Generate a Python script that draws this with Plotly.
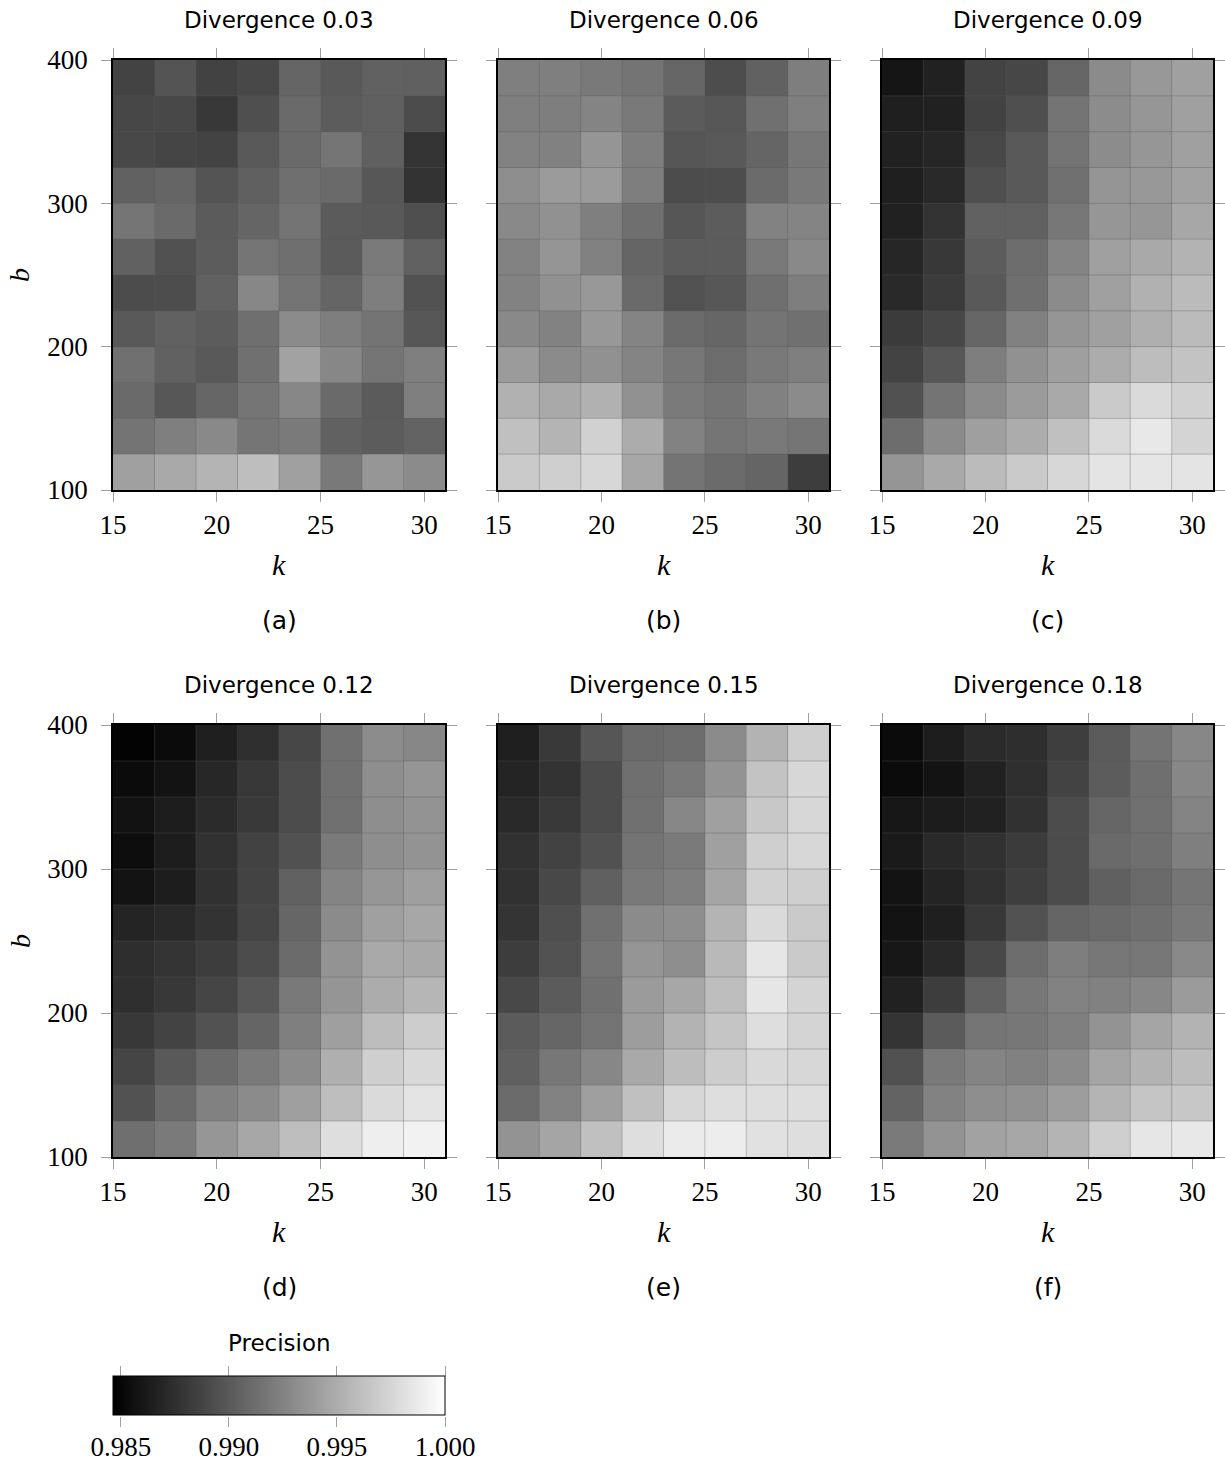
import plotly.graph_objects as go

# k values (cell centres) and b values (cell centres)
K = [16, 18, 20, 22, 24, 26, 28, 30]
B_TOP_DOWN = [387.5, 362.5, 337.5, 312.5, 287.5, 262.5, 237.5, 212.5, 187.5, 162.5, 137.5, 112.5]
X_TICKS = [15, 20, 25, 30]
Y_TICKS = [100, 200, 300, 400]
CB_TICKS = [0.985, 0.990, 0.995, 1.000]
CB_TICKTEXT = ["0.985", "0.990", "0.995", "1.000"]
TITLES = ["Divergence 0.03", "Divergence 0.06", "Divergence 0.09",
          "Divergence 0.12", "Divergence 0.15", "Divergence 0.18"]
CAPTIONS = ["(a)", "(b)", "(c)", "(d)", "(e)", "(f)"]

# precision values, rows listed from b=400 (top) down to b=100 (bottom)
prec_003 = [
    [0.9887, 0.9897, 0.9886, 0.9890, 0.9907, 0.9900, 0.9905, 0.9904],
    [0.9889, 0.9890, 0.9880, 0.9894, 0.9910, 0.9902, 0.9904, 0.9892],
    [0.9890, 0.9888, 0.9887, 0.9900, 0.9910, 0.9917, 0.9904, 0.9878],
    [0.9905, 0.9907, 0.9897, 0.9904, 0.9913, 0.9910, 0.9899, 0.9877],
    [0.9917, 0.9910, 0.9901, 0.9907, 0.9916, 0.9901, 0.9900, 0.9894],
    [0.9905, 0.9895, 0.9902, 0.9917, 0.9913, 0.9901, 0.9920, 0.9905],
    [0.9892, 0.9893, 0.9905, 0.9928, 0.9916, 0.9907, 0.9922, 0.9896],
    [0.9900, 0.9905, 0.9902, 0.9913, 0.9930, 0.9922, 0.9916, 0.9899],
    [0.9914, 0.9905, 0.9900, 0.9914, 0.9944, 0.9928, 0.9917, 0.9923],
    [0.9910, 0.9899, 0.9908, 0.9917, 0.9928, 0.9910, 0.9901, 0.9923],
    [0.9916, 0.9923, 0.9929, 0.9917, 0.9920, 0.9905, 0.9902, 0.9906],
    [0.9943, 0.9948, 0.9955, 0.9961, 0.9943, 0.9919, 0.9937, 0.9930],
]
prec_006 = [
    [0.9923, 0.9923, 0.9919, 0.9916, 0.9908, 0.9893, 0.9905, 0.9922],
    [0.9923, 0.9922, 0.9926, 0.9919, 0.9901, 0.9899, 0.9914, 0.9923],
    [0.9925, 0.9924, 0.9936, 0.9922, 0.9898, 0.9900, 0.9907, 0.9918],
    [0.9932, 0.9940, 0.9940, 0.9922, 0.9892, 0.9893, 0.9911, 0.9919],
    [0.9929, 0.9934, 0.9923, 0.9913, 0.9898, 0.9902, 0.9925, 0.9926],
    [0.9925, 0.9936, 0.9924, 0.9907, 0.9902, 0.9902, 0.9919, 0.9929],
    [0.9925, 0.9934, 0.9938, 0.9910, 0.9896, 0.9899, 0.9913, 0.9922],
    [0.9929, 0.9925, 0.9938, 0.9926, 0.9911, 0.9908, 0.9916, 0.9914],
    [0.9940, 0.9930, 0.9934, 0.9926, 0.9918, 0.9912, 0.9919, 0.9923],
    [0.9953, 0.9948, 0.9953, 0.9934, 0.9920, 0.9916, 0.9924, 0.9930],
    [0.9962, 0.9955, 0.9972, 0.9950, 0.9925, 0.9917, 0.9919, 0.9917],
    [0.9968, 0.9971, 0.9976, 0.9947, 0.9916, 0.9911, 0.9907, 0.9883],
]
prec_009 = [
    [0.9859, 0.9866, 0.9887, 0.9889, 0.9908, 0.9930, 0.9938, 0.9943],
    [0.9865, 0.9866, 0.9886, 0.9894, 0.9916, 0.9931, 0.9937, 0.9943],
    [0.9866, 0.9869, 0.9890, 0.9900, 0.9916, 0.9931, 0.9937, 0.9943],
    [0.9865, 0.9871, 0.9894, 0.9900, 0.9914, 0.9936, 0.9938, 0.9944],
    [0.9866, 0.9877, 0.9905, 0.9905, 0.9918, 0.9937, 0.9937, 0.9947],
    [0.9869, 0.9880, 0.9902, 0.9912, 0.9926, 0.9943, 0.9948, 0.9954],
    [0.9871, 0.9882, 0.9900, 0.9913, 0.9930, 0.9943, 0.9953, 0.9959],
    [0.9882, 0.9889, 0.9908, 0.9924, 0.9936, 0.9943, 0.9952, 0.9959],
    [0.9887, 0.9899, 0.9922, 0.9934, 0.9942, 0.9950, 0.9960, 0.9964],
    [0.9895, 0.9916, 0.9930, 0.9940, 0.9948, 0.9968, 0.9978, 0.9972],
    [0.9912, 0.9930, 0.9942, 0.9950, 0.9962, 0.9978, 0.9986, 0.9974],
    [0.9936, 0.9948, 0.9959, 0.9968, 0.9976, 0.9984, 0.9985, 0.9984],
]
prec_012 = [
    [0.9848, 0.9853, 0.9865, 0.9875, 0.9889, 0.9914, 0.9931, 0.9928],
    [0.9853, 0.9858, 0.9870, 0.9880, 0.9892, 0.9914, 0.9932, 0.9936],
    [0.9857, 0.9864, 0.9872, 0.9881, 0.9892, 0.9914, 0.9932, 0.9935],
    [0.9854, 0.9864, 0.9876, 0.9886, 0.9895, 0.9920, 0.9932, 0.9935],
    [0.9858, 0.9864, 0.9876, 0.9887, 0.9905, 0.9926, 0.9937, 0.9942],
    [0.9868, 0.9871, 0.9877, 0.9888, 0.9908, 0.9930, 0.9943, 0.9947],
    [0.9874, 0.9878, 0.9883, 0.9892, 0.9911, 0.9935, 0.9948, 0.9948],
    [0.9875, 0.9880, 0.9888, 0.9899, 0.9919, 0.9936, 0.9950, 0.9956],
    [0.9880, 0.9887, 0.9896, 0.9907, 0.9923, 0.9942, 0.9960, 0.9970],
    [0.9888, 0.9900, 0.9911, 0.9920, 0.9930, 0.9952, 0.9971, 0.9977],
    [0.9896, 0.9910, 0.9924, 0.9930, 0.9942, 0.9961, 0.9978, 0.9984],
    [0.9913, 0.9920, 0.9937, 0.9947, 0.9961, 0.9980, 0.9990, 0.9992],
]
prec_015 = [
    [0.9865, 0.9881, 0.9898, 0.9910, 0.9912, 0.9930, 0.9954, 0.9971],
    [0.9868, 0.9877, 0.9892, 0.9913, 0.9919, 0.9935, 0.9964, 0.9976],
    [0.9871, 0.9881, 0.9892, 0.9914, 0.9928, 0.9943, 0.9967, 0.9976],
    [0.9876, 0.9886, 0.9895, 0.9916, 0.9920, 0.9943, 0.9971, 0.9976],
    [0.9876, 0.9890, 0.9904, 0.9919, 0.9923, 0.9946, 0.9972, 0.9971],
    [0.9878, 0.9894, 0.9914, 0.9930, 0.9932, 0.9955, 0.9978, 0.9968],
    [0.9883, 0.9896, 0.9916, 0.9936, 0.9932, 0.9958, 0.9985, 0.9968],
    [0.9890, 0.9901, 0.9914, 0.9940, 0.9947, 0.9961, 0.9985, 0.9974],
    [0.9901, 0.9908, 0.9916, 0.9941, 0.9954, 0.9965, 0.9980, 0.9974],
    [0.9904, 0.9918, 0.9928, 0.9948, 0.9960, 0.9970, 0.9977, 0.9976],
    [0.9911, 0.9925, 0.9942, 0.9962, 0.9976, 0.9980, 0.9980, 0.9980],
    [0.9935, 0.9946, 0.9962, 0.9980, 0.9988, 0.9989, 0.9982, 0.9980],
]
prec_018 = [
    [0.9853, 0.9864, 0.9872, 0.9874, 0.9884, 0.9901, 0.9916, 0.9928],
    [0.9853, 0.9858, 0.9866, 0.9875, 0.9887, 0.9902, 0.9913, 0.9928],
    [0.9860, 0.9863, 0.9866, 0.9876, 0.9892, 0.9908, 0.9914, 0.9926],
    [0.9862, 0.9871, 0.9876, 0.9882, 0.9892, 0.9910, 0.9913, 0.9923],
    [0.9858, 0.9868, 0.9876, 0.9884, 0.9892, 0.9904, 0.9910, 0.9917],
    [0.9858, 0.9865, 0.9880, 0.9896, 0.9907, 0.9910, 0.9913, 0.9919],
    [0.9860, 0.9871, 0.9890, 0.9912, 0.9922, 0.9918, 0.9918, 0.9929],
    [0.9866, 0.9883, 0.9905, 0.9918, 0.9925, 0.9924, 0.9928, 0.9940],
    [0.9878, 0.9901, 0.9917, 0.9918, 0.9923, 0.9935, 0.9946, 0.9954],
    [0.9895, 0.9919, 0.9926, 0.9924, 0.9930, 0.9946, 0.9954, 0.9960],
    [0.9906, 0.9925, 0.9932, 0.9934, 0.9941, 0.9955, 0.9965, 0.9966],
    [0.9920, 0.9935, 0.9944, 0.9947, 0.9955, 0.9971, 0.9985, 0.9986],
]
PANELS = [prec_003, prec_006, prec_009, prec_012, prec_015, prec_018]

ZMIN, ZMAX = 0.98464, 1.0

W, H = 1225, 1464
COL_PX = [(113, 445), (498, 829), (882, 1213)]
ROW_PX = [(60, 490), (725, 1157)]
CB_PX = (113, 445, 1377, 1416)   # left, right, top, bottom

SERIF = "Liberation Serif"
SANS = "DejaVu Sans"
TICK_COLOR = "#a0a0a0"

fig = go.Figure()
annotations = []
shapes = []

for i, z in enumerate(PANELS):
    r, c = divmod(i, 3)
    n = i + 1
    xs = "" if n == 1 else str(n)
    x0, x1 = COL_PX[c]
    y0, y1 = ROW_PX[r]
    fig.add_trace(go.Heatmap(
        x=K, y=B_TOP_DOWN, z=z, zmin=ZMIN, zmax=ZMAX,
        colorscale=[[0, "#000000"], [1, "#ffffff"]],
        showscale=(i == 0),
        colorbar=dict(
            orientation="h", x=(CB_PX[0] + CB_PX[1]) / 2 / W, xanchor="center",
            y=1 - CB_PX[3] / H, yanchor="bottom",
            thickness=CB_PX[3] - CB_PX[2], len=CB_PX[1] - CB_PX[0], lenmode="pixels",
            xpad=0, ypad=0, outlinewidth=1, outlinecolor="black",
            ticks="", showticklabels=False,
        ),
        xaxis="x" + xs, yaxis="y" + xs,
        hovertemplate="k=%{x}<br>b=%{y}<br>precision=%{z}<extra></extra>",
    ))
    common = dict(showline=True, mirror="ticks", linecolor="black", linewidth=1.5,
                  ticks="outside", ticklen=10, tickcolor=TICK_COLOR, tickwidth=1,
                  showgrid=False, zeroline=False,
                  tickfont=dict(family=SERIF, size=27, color="black"))
    fig.update_layout(**{
        "xaxis" + xs: dict(domain=[x0 / W, x1 / W], anchor="y" + xs,
                           range=[15, 31], tickvals=X_TICKS, ticklabelstandoff=0,
                           **common),
        "yaxis" + xs: dict(domain=[1 - y1 / H, 1 - y0 / H], anchor="x" + xs,
                           range=[100, 400], tickvals=Y_TICKS,
                           showticklabels=(c == 0), ticklabelstandoff=8,
                           **common),
    })
    # cell separators derived from the cell centres
    for a, b in zip(K[:-1], K[1:]):
        xm = (a + b) / 2
        shapes.append(dict(type="line", xref="x" + xs, yref="y" + xs,
                           x0=xm, x1=xm, y0=100, y1=400, layer="above",
                           line=dict(color="rgba(90,90,90,0.35)", width=1)))
    for a, b in zip(B_TOP_DOWN[:-1], B_TOP_DOWN[1:]):
        ym = (a + b) / 2
        shapes.append(dict(type="line", xref="x" + xs, yref="y" + xs,
                           x0=15, x1=31, y0=ym, y1=ym, layer="above",
                           line=dict(color="rgba(90,90,90,0.35)", width=1)))
    xc = (x0 + x1) / 2 / W
    annotations.append(dict(text=TITLES[i], x=xc, y=1 - (y0 - 40) / H,
                            xref="paper", yref="paper", showarrow=False,
                            xanchor="center", yanchor="middle",
                            font=dict(family=SANS, size=23, color="black")))
    annotations.append(dict(text="<i>k</i>", x=xc, y=1 - (y1 + 74) / H,
                            xref="paper", yref="paper", showarrow=False,
                            xanchor="center", yanchor="middle",
                            font=dict(family=SERIF, size=30, color="black")))
    annotations.append(dict(text=CAPTIONS[i], x=xc, y=1 - (y1 + 130) / H,
                            xref="paper", yref="paper", showarrow=False,
                            xanchor="center", yanchor="middle",
                            font=dict(family=SANS, size=25, color="black")))
    if c == 0:
        annotations.append(dict(text="<i>b</i>", x=20 / W, y=1 - (y0 + y1) / 2 / H,
                                xref="paper", yref="paper", showarrow=False,
                                xanchor="center", yanchor="middle", textangle=-90,
                                font=dict(family=SERIF, size=28, color="black")))

# colour bar title
annotations.append(dict(text="Precision", x=(CB_PX[0] + CB_PX[1]) / 2 / W,
                        y=1 - (CB_PX[2] - 34) / H, xref="paper", yref="paper",
                        showarrow=False, xanchor="center", yanchor="middle",
                        font=dict(family=SANS, size=23, color="black")))

# helper axes giving the colour bar its tick marks (top and bottom) and labels
fig.add_trace(go.Scatter(x=[], y=[], xaxis="x7", yaxis="y7", showlegend=False))
fig.add_trace(go.Scatter(x=[], y=[], xaxis="x8", yaxis="y7", showlegend=False))
cb_dom_x = [CB_PX[0] / W, CB_PX[1] / W]
fig.update_layout(
    xaxis7=dict(domain=cb_dom_x, anchor="y7", range=[ZMIN, ZMAX],
                side="top", tickvals=CB_TICKS, ticks="outside", ticklen=10,
                tickcolor=TICK_COLOR, showticklabels=False, showline=False,
                showgrid=False, zeroline=False),
    xaxis8=dict(domain=cb_dom_x, anchor="y7", overlaying="x7", range=[ZMIN, ZMAX],
                side="bottom", tickvals=CB_TICKS, ticktext=CB_TICKTEXT,
                ticks="outside", ticklen=10, tickcolor=TICK_COLOR,
                showline=False, showgrid=False, zeroline=False,
                ticklabelstandoff=-3,
                tickfont=dict(family=SERIF, size=27, color="black")),
    yaxis7=dict(domain=[1 - CB_PX[3] / H, 1 - CB_PX[2] / H], anchor="x7",
                visible=False),
)

fig.update_layout(
    width=W, height=H,
    margin=dict(l=0, r=0, t=0, b=0, autoexpand=False),
    paper_bgcolor="white", plot_bgcolor="rgba(0,0,0,0)",
    annotations=annotations, shapes=shapes, showlegend=False,
)

fig.write_html(
    "out.html",
    config={"displayModeBar": False},
    post_script="document.body.style.margin='0';document.body.style.overflow='hidden';",
)
